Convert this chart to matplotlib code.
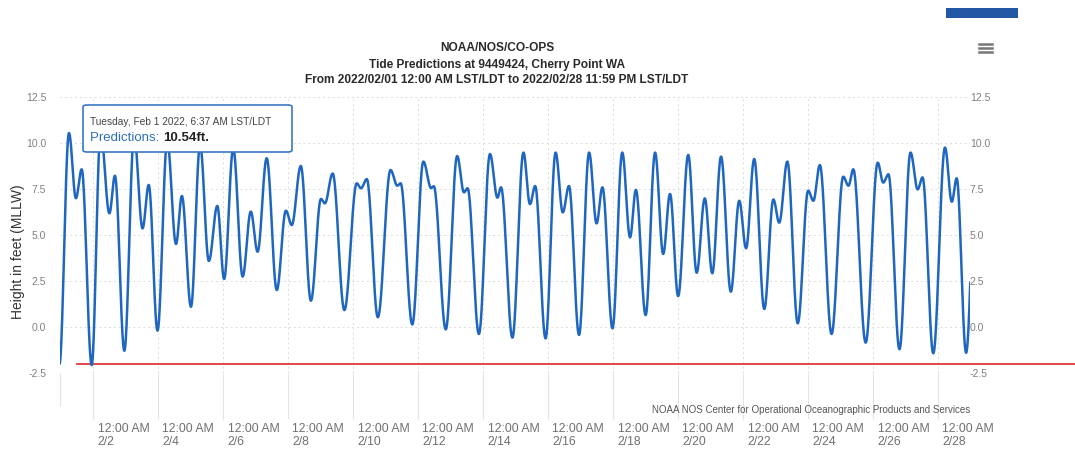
import numpy as np
import matplotlib
matplotlib.use('Agg')
import matplotlib.pyplot as plt
import matplotlib.transforms as mtransforms
from matplotlib.patches import FancyBboxPatch, Rectangle
from matplotlib.lines import Line2D

# tide turning points (high / low)
# days after 2022/02/01 12:00 AM LST/LDT, height in feet (MLLW)
# first and last pairs lie just outside the window so the curve enters and leaves on its slope
hilo_days = [-0.02, 0.276, 0.49, 0.667, 0.975, 1.25, 1.52, 1.69, 1.98, 2.28,
             2.54, 2.73, 3.00, 3.30, 3.57, 3.75, 4.03, 4.31, 4.58, 4.84,
             5.05, 5.33, 5.62, 5.87, 6.08, 6.36, 6.67, 6.95, 7.13, 7.41,
             7.72, 8.03, 8.15, 8.39, 8.75, 9.13, 9.26, 9.44, 9.78, 10.17,
             10.38, 10.48, 10.84, 11.18, 11.42, 11.50, 11.87, 12.22, 12.43, 12.54,
             12.89, 13.23, 13.46, 13.57, 13.92, 14.26, 14.46, 14.62, 14.94, 15.25,
             15.47, 15.66, 15.97, 16.28, 16.51, 16.69, 17.00, 17.30, 17.54, 17.72,
             18.02, 18.31, 18.56, 18.77, 19.02, 19.33, 19.59, 19.84, 20.07, 20.34,
             20.64, 20.90, 21.11, 21.36, 21.67, 21.95, 22.13, 22.38, 22.70, 23.02,
             23.18, 23.38, 23.74, 24.10, 24.26, 24.41, 24.79, 25.16, 25.33, 25.49,
             25.83, 26.17, 26.39, 26.54, 26.87, 27.23, 27.44, 27.59, 27.88, 28.20]
hilo_ft = [-2.05, 10.54, 7.00, 8.57, -2.07, 10.60, 6.18, 8.22, -1.29, 10.40,
           5.36, 7.72, -0.20, 10.10, 4.51, 7.12, 1.10, 9.90, 3.59, 6.58,
           2.61, 9.70, 2.74, 6.27, 4.09, 9.17, 2.01, 6.32, 5.54, 8.75,
           1.43, 6.96, 6.72, 8.34, 0.92, 7.81, 7.54, 8.04, 0.53, 8.53,
           7.68, 7.81, 0.14, 8.99, 7.55, 7.65, -0.13, 9.29, 7.32, 7.54,
           -0.38, 9.40, 7.03, 7.59, -0.58, 9.48, 6.68, 7.66, -0.62, 9.48,
           6.23, 7.66, -0.43, 9.48, 5.63, 7.59, -0.07, 9.48, 4.87, 7.45,
           0.65, 9.48, 3.97, 7.23, 1.68, 9.35, 2.95, 6.99, 2.92, 9.26,
           1.92, 6.86, 4.28, 9.13, 0.98, 6.93, 5.67, 8.99, 0.20, 7.41,
           6.86, 8.80, -0.38, 8.17, 7.68, 8.57, -0.85, 8.93, 7.85, 8.30,
           -1.21, 9.48, 7.48, 8.13, -1.43, 9.75, 6.81, 8.08, -1.40, 9.60]

tick_days = [1, 3, 5, 7, 9, 11, 13, 15, 17, 19, 21, 23, 25, 27]
tick_dates = ['2/2', '2/4', '2/6', '2/8', '2/10', '2/12', '2/14',
              '2/16', '2/18', '2/20', '2/22', '2/24', '2/26', '2/28']
y_ticks = [-2.5, 0.0, 2.5, 5.0, 7.5, 10.0, 12.5]
red_level = -2.0

SANS = ['Liberation Sans', 'DejaVu Sans']
W, H = 1075, 449


def tide_curve(days, heights, n=40):
    # half cosine between each pair of turning points
    tt, hh = [], []
    for i in range(len(days) - 1):
        s = np.linspace(0, 1, n, endpoint=False)
        tt.append(days[i] + (days[i + 1] - days[i]) * s)
        hh.append(heights[i] + (heights[i + 1] - heights[i]) * (1 - np.cos(np.pi * s)) / 2)
    tt.append([days[-1]])
    hh.append([heights[-1]])
    return np.concatenate(tt), np.concatenate(hh)


def fx(px):
    return px / W


def fy(py):
    return 1 - py / H


fig = plt.figure(figsize=(W / 100, H / 100), dpi=100)
fig.patch.set_facecolor('white')
ax = fig.add_axes([fx(60), fy(373), fx(910), 276 / H])

t, h = tide_curve(hilo_days, hilo_ft)
ax.plot(t, h, color='#1f66c1', lw=1.8, zorder=3)
ax.axhline(red_level, xmin=17 / 910, xmax=(W - 60) / 910, color='#e2373d',
           lw=1.3, clip_on=False, zorder=2)

ax.set_xlim(0, 28)
ax.set_ylim(-2.5, 12.5)
for s in ax.spines.values():
    s.set_visible(False)

ax.set_yticks(y_ticks)
ax.set_yticklabels(['%.1f' % v for v in y_ticks])
ax.tick_params(axis='y', length=0, labelsize=7.5, labelcolor='#808080',
               pad=10, labelright=True)
# right hand labels sit a little inside the plot edge
for tk in ax.yaxis.get_major_ticks():
    tk.label1.set_family(SANS)
    tk.label2.set_horizontalalignment('left')
    tk.label2.set_transform(tk.label2.get_transform() +
                            mtransforms.ScaledTranslation(-0.14, 0, fig.dpi_scale_trans))
    tk.label2.set_family(SANS)
    tk.label2.set_fontsize(7.5)
    tk.label2.set_color('#808080')

ax.set_xticks(tick_days)
ax.set_xticklabels(['12:00 AM\n' + d for d in tick_dates])
ax.set_xticks([0], minor=True)
ax.tick_params(axis='x', which='major', length=33, width=0.8, color='#e4e4e4',
               labelsize=8.8, labelcolor='#707070', pad=3)
ax.tick_params(axis='x', which='minor', length=24, width=0.8, color='#e4e4e4')
shift = mtransforms.ScaledTranslation(0.05, 0, fig.dpi_scale_trans)
for lab in ax.get_xticklabels():
    lab.set_horizontalalignment('left')
    lab.set_linespacing(1.15)
    lab.set_family(SANS)
    lab.set_transform(lab.get_transform() + shift)

ax.grid(True, color='#dcdcdc', lw=0.7, ls=(0, (2, 3)))
ax.set_axisbelow(True)

fig.text(fx(18), fy(252), 'Height in feet (MLLW)', rotation=90, ha='center',
         va='center', fontsize=10, color='#333333', family=SANS)

title_kw = dict(ha='center', va='center', fontsize=8.6, fontweight='bold',
                color='#2a2a2a', family=SANS)
fig.text(fx(497), fy(48), 'NOAA/NOS/CO-OPS', **title_kw)
fig.text(fx(497), fy(65), 'Tide Predictions at 9449424, Cherry Point WA', **title_kw)
fig.text(fx(497), fy(80),
         'From 2022/02/01 12:00 AM LST/LDT to 2022/02/28 11:59 PM LST/LDT', **title_kw)

fig.text(fx(970), fy(410),
         'NOAA NOS Center for Operational Oceanographic Products and Services',
         ha='right', va='center', fontsize=7, color='#555555', family=SANS)

# tooltip
box = FancyBboxPatch((fx(83), fy(152)), fx(209), 47 / H,
                     boxstyle='round,pad=0,rounding_size=0.004',
                     transform=fig.transFigure, facecolor='white',
                     edgecolor='#3b78c4', lw=1.2, zorder=10)
fig.add_artist(box)
fig.text(fx(90), fy(122), 'Tuesday, Feb 1 2022, 6:37 AM LST/LDT',
         ha='left', va='center', fontsize=7.3, color='#444444',
         family=SANS, zorder=11)
pred = fig.text(fx(90), fy(138), 'Predictions: ', ha='left', va='center',
                fontsize=9.5, color='#2e6fc0', family=SANS, zorder=11)
fig.canvas.draw()
bb = pred.get_window_extent()
fig.text(bb.x1 / W, fy(138), '10.54ft.', ha='left', va='center',
         fontsize=9.5, fontweight='bold', color='#222222', family=SANS, zorder=11)

# menu icon and top bar
for yy in (44, 48, 52):
    fig.add_artist(Line2D([fx(979), fx(992)], [fy(yy), fy(yy)], color='#777777',
                          lw=1.8, transform=fig.transFigure))
fig.add_artist(Rectangle((fx(946), fy(18)), fx(72), 10 / H, transform=fig.transFigure,
                         facecolor='#2257a6', edgecolor='none'))

fig.savefig('out.png', dpi=100, facecolor='white')
